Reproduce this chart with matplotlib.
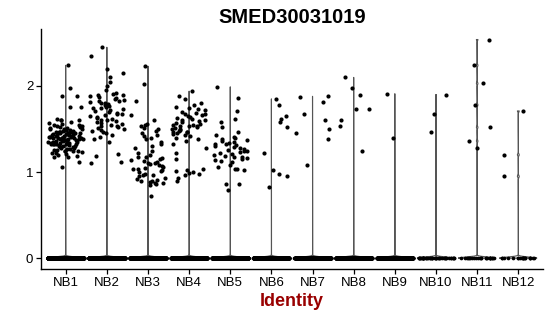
import matplotlib
matplotlib.use("Agg")
import matplotlib.pyplot as plt
import numpy as np

plt.rcParams['font.family'] = ['Liberation Sans', 'DejaVu Sans']

groups = ['NB1', 'NB2', 'NB3', 'NB4', 'NB5', 'NB6',
          'NB7', 'NB8', 'NB9', 'NB10', 'NB11', 'NB12']

# number of cells with zero expression in each group
zero_counts = [1200, 1100, 900, 1000, 900, 700, 650, 600, 500, 45, 24, 20]

# non-zero expression values
nb1 = [2.24, 1.98, 1.88, 1.88, 1.76, 1.76, 1.62, 1.60, 1.60, 1.60, 1.12, 1.06,
       1.58, 1.57, 1.56, 1.55, 1.55, 1.54, 1.53, 1.53, 1.52, 1.52, 1.51, 1.51,
       1.50, 1.50, 1.50, 1.49, 1.49, 1.48, 1.48, 1.48, 1.47, 1.47, 1.47, 1.46,
       1.46, 1.46, 1.45, 1.45, 1.45, 1.45, 1.44, 1.44, 1.44, 1.43, 1.43, 1.43,
       1.43, 1.42, 1.42, 1.42, 1.42, 1.41, 1.41, 1.41, 1.40, 1.40, 1.40, 1.40,
       1.39, 1.39, 1.39, 1.38, 1.38, 1.38, 1.38, 1.37, 1.37, 1.37, 1.36, 1.36,
       1.36, 1.35, 1.35, 1.35, 1.34, 1.34, 1.34, 1.33, 1.33, 1.33, 1.32, 1.32,
       1.32, 1.31, 1.31, 1.30, 1.30, 1.30, 1.29, 1.29, 1.28, 1.28, 1.27, 1.27,
       1.26, 1.26, 1.25, 1.25, 1.24, 1.24, 1.23, 1.22, 1.22, 1.21, 1.20, 1.19,
       1.18, 1.17]
nb2 = [2.45, 2.35, 2.20, 2.15, 2.10, 2.05, 2.00, 1.95,
       1.92, 1.91, 1.90, 1.89, 1.88, 1.87, 1.86, 1.85, 1.84, 1.83, 1.82, 1.81,
       1.80, 1.80, 1.79, 1.78, 1.77, 1.76, 1.75, 1.74, 1.73, 1.72, 1.71, 1.70,
       1.69, 1.68, 1.67, 1.66, 1.65, 1.64, 1.63, 1.62, 1.61, 1.60, 1.59, 1.58,
       1.57, 1.56, 1.55, 1.54, 1.53, 1.52, 1.51, 1.50, 1.49, 1.47, 1.45, 1.43,
       1.48, 1.41, 1.38, 1.35, 1.21, 1.19, 1.12, 1.11]
nb3 = [2.23, 2.02, 1.82, 1.66, 1.60, 1.56, 1.55, 1.53,
       1.51, 1.50, 1.48, 1.45, 1.43, 1.42, 1.40, 1.38, 1.35, 1.33, 1.30, 1.28,
       1.25, 1.22, 1.20, 1.18, 1.17, 1.16, 1.15, 1.14, 1.13, 1.12, 1.11, 1.10,
       1.09, 1.08, 1.07, 1.06, 1.05, 1.04, 1.03, 1.02, 1.01, 1.00, 0.98, 0.97,
       0.96, 0.95, 0.93, 0.92, 0.91, 0.90, 0.89, 0.88, 0.87, 0.87, 0.86, 0.85,
       0.72]
nb4 = [1.94, 1.88, 1.85, 1.80,
       1.78, 1.76, 1.75, 1.73, 1.72, 1.70, 1.69, 1.68, 1.67, 1.66, 1.65, 1.64,
       1.63, 1.62, 1.61, 1.60, 1.59, 1.58, 1.57, 1.56, 1.55, 1.55, 1.54, 1.53,
       1.53, 1.52, 1.51, 1.50, 1.50, 1.49, 1.48, 1.47, 1.47, 1.46, 1.45, 1.44,
       1.43, 1.42, 1.40, 1.38, 1.36, 1.33,
       1.28, 1.22, 1.15, 1.03, 1.02, 1.01, 1.00, 0.99, 0.98, 0.97, 0.93, 0.90]
nb5 = [1.99, 1.86, 1.71, 1.62, 1.58, 1.52, 1.47,
       1.43, 1.41, 1.40, 1.38, 1.37, 1.36, 1.35, 1.34, 1.33, 1.32, 1.31, 1.30,
       1.29, 1.28, 1.27, 1.26, 1.25, 1.24, 1.23, 1.22, 1.21, 1.20, 1.19, 1.18,
       1.17, 1.16, 1.15, 1.14, 1.13, 1.12,
       1.08, 1.06, 1.04, 1.03, 1.02, 0.86, 0.86, 0.79]
nb6 = [1.85, 1.78, 1.65, 1.58, 1.62, 1.52, 1.22, 1.02, 0.98, 0.95, 0.83]
nb7 = [1.88, 1.81, 1.87, 1.68, 1.60, 1.50, 1.38, 1.45, 1.08]
nb8 = [2.10, 1.98, 1.89, 1.73, 1.73, 1.60, 1.53, 1.24]
nb9 = [1.91, 1.40]
nb10 = [1.90, 1.67, 1.46]
nb11 = [2.54, 2.24, 2.03, 1.78, 1.52, 1.36, 1.28]
nb12 = [1.71, 1.20, 0.95]

nonzero = [nb1, nb2, nb3, nb4, nb5, nb6, nb7, nb8, nb9, nb10, nb11, nb12]

fig = plt.figure(figsize=(5.5, 3.16), dpi=100)
ax = fig.add_axes([41 / 550, 47 / 316, 502 / 550, 240.4 / 316])


def jitter(n, seed, half=0.44):
    # deterministic hash-style spread of points across the group width
    k = np.arange(n) + 1.0
    h = np.sin(k * 78.233 + seed * 12.9898) * 43758.5453
    return (h - np.floor(h) - 0.5) * 2 * half


for i, (name, n0, vals) in enumerate(zip(groups, zero_counts, nonzero)):
    pos = i + 1
    y = np.concatenate([np.zeros(n0), np.asarray(vals, float)])

    # violin outline (narrow kernel, width scaled to 0.9)
    grid = np.linspace(0, y.max(), 3000)
    bw = 0.012
    dens = np.exp(-0.5 * ((grid[:, None] - y[None, :]) / bw) ** 2).sum(axis=1)
    w = dens / dens.max() * 0.45
    xs = np.concatenate([pos - w, (pos + w)[::-1], [pos - w[0]]])
    ys = np.concatenate([grid, grid[::-1], [grid[0]]])
    ax.plot(xs, ys, color='#555555', lw=0.8, zorder=1)

    # jittered cells
    ax.scatter(pos + jitter(n0, i + 1), np.zeros(n0), s=7, color='black',
               linewidths=0, zorder=2)
    ax.scatter(pos + jitter(len(vals), i + 31, 0.42), vals, s=9,
               color='black', linewidths=0, zorder=3)

ax.set_xlim(0.4, 12.6)
ax.set_ylim(-0.127, 2.667)
ax.set_xticks(range(1, 13))
ax.set_xticklabels(groups)
ax.set_yticks([0, 1, 2])
ax.set_yticklabels(['0', '1', '2'])
for s in ['top', 'right']:
    ax.spines[s].set_visible(False)
for s in ['left', 'bottom']:
    ax.spines[s].set_linewidth(1.0)
ax.tick_params(axis='both', labelsize=9.5, length=3.5, width=0.9,
               colors='black', pad=2)

fig.text(292 / 550, 1 - 23 / 316, 'SMED30031019', ha='center', va='baseline',
         fontsize=14.5, fontweight='bold')
fig.text(292 / 550, 1 - 306 / 316, 'Identity', ha='center', va='baseline',
         fontsize=13, fontweight='bold', color='#990000')

fig.savefig('out.png', dpi=100)
